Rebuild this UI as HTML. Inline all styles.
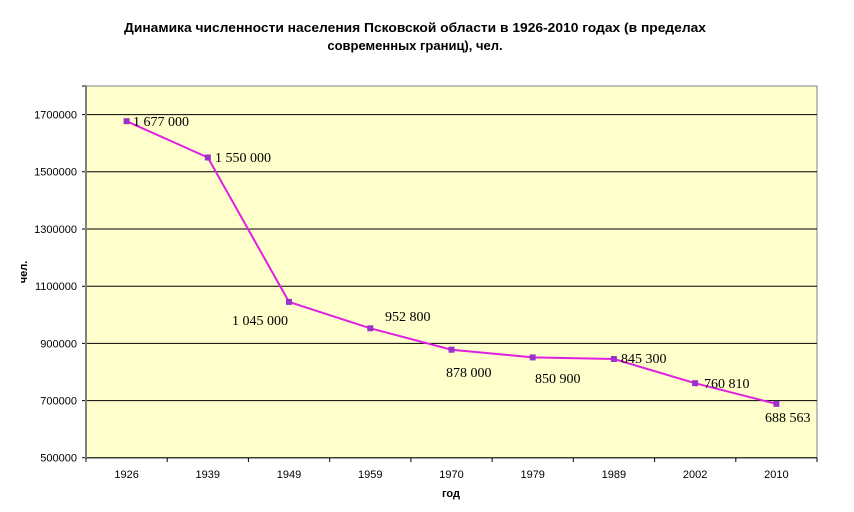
<!DOCTYPE html>
<html><head><meta charset="utf-8"><style>
html,body{margin:0;padding:0;background:#fff;}
svg{display:block;}
</style></head><body>
<svg width="854" height="512" viewBox="0 0 854 512" xmlns="http://www.w3.org/2000/svg">
<rect x="0" y="0" width="854" height="512" fill="#fff"/>
<text x="415" y="32" text-anchor="middle" font-family="Liberation Sans, sans-serif" font-weight="bold" font-size="13" textLength="582" lengthAdjust="spacingAndGlyphs" fill="#000">Динамика численности населения Псковской области в 1926-2010 годах (в пределах</text>
<text x="415" y="50" text-anchor="middle" font-family="Liberation Sans, sans-serif" font-weight="bold" font-size="13" fill="#000">современных границ), чел.</text>
<rect x="86" y="86" width="731" height="372" fill="#FFFFCC" stroke="#808080" stroke-width="1"/>
<g stroke="#000" stroke-width="1">
<line x1="82" y1="114.6" x2="817" y2="114.6"/>
<line x1="82" y1="171.8" x2="817" y2="171.8"/>
<line x1="82" y1="229" x2="817" y2="229"/>
<line x1="82" y1="286.2" x2="817" y2="286.2"/>
<line x1="82" y1="343.4" x2="817" y2="343.4"/>
<line x1="82" y1="400.6" x2="817" y2="400.6"/>
<line x1="82" y1="457.8" x2="817" y2="457.8"/>
<line x1="82" y1="86" x2="86" y2="86"/>
</g>
<line x1="86" y1="86" x2="86" y2="458" stroke="#808080" stroke-width="2"/>
<g stroke="#000" stroke-width="1">
<line x1="86" y1="458" x2="86" y2="462"/>
<line x1="167.2" y1="458" x2="167.2" y2="462"/>
<line x1="248.4" y1="458" x2="248.4" y2="462"/>
<line x1="329.7" y1="458" x2="329.7" y2="462"/>
<line x1="410.9" y1="458" x2="410.9" y2="462"/>
<line x1="492.1" y1="458" x2="492.1" y2="462"/>
<line x1="573.3" y1="458" x2="573.3" y2="462"/>
<line x1="654.6" y1="458" x2="654.6" y2="462"/>
<line x1="735.8" y1="458" x2="735.8" y2="462"/>
<line x1="817" y1="458" x2="817" y2="462"/>
</g>
<g font-family="Liberation Sans, sans-serif" font-size="11" fill="#000" text-anchor="end">
<text x="77" y="118.5">1700000</text>
<text x="77" y="175.7">1500000</text>
<text x="77" y="232.9">1300000</text>
<text x="77" y="290.1">1100000</text>
<text x="77" y="347.3">900000</text>
<text x="77" y="404.5">700000</text>
<text x="77" y="461.7">500000</text>
</g>
<g font-family="Liberation Sans, sans-serif" font-size="11" fill="#000" text-anchor="middle">
<text x="126.6" y="478">1926</text>
<text x="207.8" y="478">1939</text>
<text x="289" y="478">1949</text>
<text x="370.3" y="478">1959</text>
<text x="451.5" y="478">1970</text>
<text x="532.7" y="478">1979</text>
<text x="613.9" y="478">1989</text>
<text x="695.1" y="478">2002</text>
<text x="776.4" y="478">2010</text>
</g>
<text x="451" y="497" text-anchor="middle" font-family="Liberation Sans, sans-serif" font-weight="bold" font-size="11" fill="#000">год</text>
<text transform="translate(27,272) rotate(-90)" text-anchor="middle" font-family="Liberation Sans, sans-serif" font-weight="bold" font-size="11" fill="#000">чел.</text>
<polyline fill="none" stroke="#E020E0" stroke-width="2" points="126.6,121.2 207.8,157.5 289,301.9 370.3,328.3 451.5,349.7 532.7,357.4 613.9,359 695.1,383.2 776.4,403.9"/>
<g fill="#9933CC">
<rect x="123.6" y="118.2" width="6" height="6"/>
<rect x="204.8" y="154.5" width="6" height="6"/>
<rect x="286" y="298.9" width="6" height="6"/>
<rect x="367.3" y="325.3" width="6" height="6"/>
<rect x="448.5" y="346.7" width="6" height="6"/>
<rect x="529.7" y="354.4" width="6" height="6"/>
<rect x="610.9" y="356" width="6" height="6"/>
<rect x="692.1" y="380.2" width="6" height="6"/>
<rect x="773.4" y="400.9" width="6" height="6"/>
</g>
<g font-family="Liberation Serif, serif" font-size="14" fill="#000">
<text x="133" y="126">1 677 000</text>
<text x="215" y="162">1 550 000</text>
<text x="232" y="325">1 045 000</text>
<text x="385" y="321">952 800</text>
<text x="446" y="377">878 000</text>
<text x="535" y="383">850 900</text>
<text x="621" y="363">845 300</text>
<text x="704" y="388">760 810</text>
<text x="765" y="422">688 563</text>
</g>
</svg>
</body></html>
